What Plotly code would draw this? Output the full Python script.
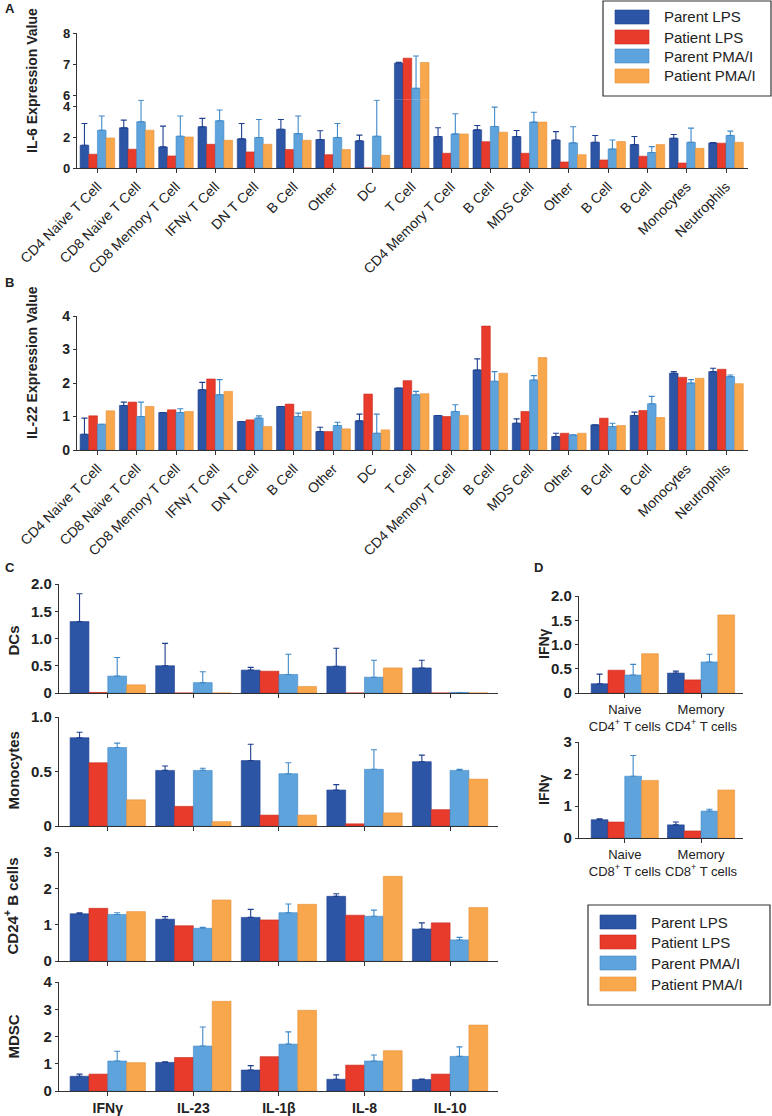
import plotly.graph_objects as go

W, H = 772, 1116
FONT = "Liberation Sans, Arial, sans-serif"

series = ["Parent LPS", "Patient LPS", "Parent PMA/I", "Patient PMA/I"]
colors = ["#2D55A5", "#E83B2B", "#5EA3DC", "#F8A74C"]
edge_colors = ["#1E3F8E", "#C92A1C", "#3F88C8", "#E8913A"]

# ---------------- Panel A: IL-6 ----------------
a_cats = ["CD4 Naive T Cell", "CD8 Naive T Cell", "CD8 Memory T Cell", "IFNγ T Cell",
          "DN T Cell", "B Cell", "Other", "DC", "T Cell", "CD4 Memory T Cell",
          "B Cell", "MDS Cell", "Other", "B Cell", "B Cell", "Monocytes", "Neutrophils"]
a_parent_lps = [1.47, 2.59, 1.36, 2.66, 1.88, 2.50, 1.84, 1.75, 7.03, 2.03, 2.46, 2.03, 1.81, 1.66, 1.51, 1.92, 1.62]
a_parent_lps_top = [2.87, 3.09, 2.70, 3.20, 2.87, 3.13, 2.40, 2.12, 7.06, 2.60, 2.74, 2.42, 2.35, 2.10, 2.03, 2.16, 1.65]
a_patient_lps = [0.89, 1.21, 0.78, 1.53, 1.04, 1.19, 0.86, 0.0, 7.19, 0.95, 1.70, 0.95, 0.39, 0.52, 0.76, 0.32, 1.60]
a_parent_pma = [2.44, 2.98, 2.05, 3.05, 1.97, 2.22, 1.97, 2.05, 6.22, 2.20, 2.68, 2.96, 1.62, 1.23, 1.00, 1.66, 2.10]
a_parent_pma_top = [3.35, 4.38, 3.35, 3.74, 3.13, 3.35, 2.87, 4.38, 7.26, 3.50, 3.93, 3.60, 2.66, 1.81, 1.38, 2.57, 2.38]
a_patient_pma = [1.94, 2.44, 2.00, 1.79, 1.53, 1.79, 1.19, 0.82, 7.05, 2.20, 2.31, 2.96, 0.86, 1.71, 1.51, 1.27, 1.66]

# ---------------- Panel B: IL-22 ----------------
b_cats = a_cats
b_parent_lps = [0.47, 1.33, 1.12, 1.80, 0.85, 1.30, 0.55, 0.87, 1.85, 1.03, 2.39, 0.80, 0.40, 0.75, 1.03, 2.29, 2.34]
b_parent_lps_top = [0.95, 1.43, None, 2.02, None, None, 0.68, 1.07, None, None, 2.72, 0.93, 0.50, None, 1.13, 2.34, 2.44]
b_patient_lps = [1.02, 1.43, 1.20, 2.12, 0.90, 1.37, 0.55, 1.67, 2.07, 1.00, 3.70, 1.15, 0.50, 0.95, 1.18, 2.17, 2.41]
b_parent_pma = [0.77, 1.00, 1.12, 1.65, 0.95, 1.00, 0.73, 0.50, 1.65, 1.15, 2.05, 2.09, 0.45, 0.70, 1.38, 2.00, 2.19]
b_parent_pma_top = [None, 1.43, 1.23, 2.10, 1.02, 1.10, 0.83, 1.07, 1.75, 1.35, 2.34, 2.22, None, 0.80, 1.60, 2.10, 2.24]
b_patient_pma = [1.17, 1.30, 1.15, 1.75, 0.70, 1.15, 0.63, 0.60, 1.68, 1.03, 2.29, 2.76, 0.50, 0.73, 0.97, 2.14, 1.98]

# ---------------- Panel C ----------------
c_cats = ["IFNγ", "IL-23", "IL-1β", "IL-8", "IL-10"]
c_dc_parent_lps = [1.31, 0.50, 0.42, 0.49, 0.46]
c_dc_parent_lps_top = [1.82, 0.91, 0.47, 0.82, 0.60]
c_dc_patient_lps = [0.01, 0.0, 0.40, 0.0, 0.0]
c_dc_parent_pma = [0.31, 0.19, 0.34, 0.29, 0.01]
c_dc_parent_pma_top = [0.65, 0.39, 0.71, 0.60, None]
c_dc_patient_pma = [0.15, 0.0, 0.12, 0.46, 0.0]

c_mono_parent_lps = [0.81, 0.51, 0.60, 0.33, 0.59]
c_mono_parent_lps_top = [0.86, 0.55, 0.75, 0.38, 0.65]
c_mono_patient_lps = [0.58, 0.18, 0.10, 0.02, 0.15]
c_mono_parent_pma = [0.72, 0.51, 0.48, 0.52, 0.51]
c_mono_parent_pma_top = [0.76, 0.53, 0.58, 0.70, 0.52]
c_mono_patient_pma = [0.24, 0.04, 0.10, 0.12, 0.43]

c_b_parent_lps = [1.30, 1.15, 1.20, 1.78, 0.88]
c_b_parent_lps_top = [1.33, 1.22, 1.42, 1.85, 1.05]
c_b_patient_lps = [1.45, 0.97, 1.13, 1.26, 1.05]
c_b_parent_pma = [1.28, 0.90, 1.33, 1.23, 0.58]
c_b_parent_pma_top = [1.33, 0.93, 1.57, 1.40, 0.65]
c_b_patient_pma = [1.36, 1.68, 1.56, 2.33, 1.47]

c_mdsc_parent_lps = [0.54, 1.05, 0.77, 0.43, 0.42]
c_mdsc_parent_lps_top = [0.62, 1.07, 0.93, 0.59, 0.44]
c_mdsc_patient_lps = [0.62, 1.23, 1.26, 0.95, 0.62]
c_mdsc_parent_pma = [1.10, 1.65, 1.72, 1.10, 1.27]
c_mdsc_parent_pma_top = [1.46, 2.35, 2.17, 1.32, 1.62]
c_mdsc_patient_pma = [1.04, 3.29, 2.96, 1.48, 2.42]

# ---------------- Panel D ----------------
d_cd4_cats = ["Naive<br>CD4<sup>+</sup> T cells", "Memory<br>CD4<sup>+</sup> T cells"]
d_cd8_cats = ["Naive<br>CD8<sup>+</sup> T cells", "Memory<br>CD8<sup>+</sup> T cells"]
d_cd4_parent_lps = [0.19, 0.41]
d_cd4_parent_lps_top = [0.39, 0.45]
d_cd4_patient_lps = [0.47, 0.27]
d_cd4_parent_pma = [0.37, 0.64]
d_cd4_parent_pma_top = [0.59, 0.80]
d_cd4_patient_pma = [0.81, 1.61]
d_cd8_parent_lps = [0.57, 0.41]
d_cd8_parent_lps_top = [0.60, 0.50]
d_cd8_patient_lps = [0.50, 0.22]
d_cd8_parent_pma = [1.93, 0.84]
d_cd8_parent_pma_top = [2.58, 0.90]
d_cd8_patient_pma = [1.80, 1.50]


def px_x(p):
    return p / W


def px_y(p):
    return 1 - p / H


fig = go.Figure()


def add_group(xa, ya, n, values, tops):
    xs = list(range(n))
    for i, (vals, top) in enumerate(zip(values, tops)):
        err = None
        if top is not None:
            plus = [(t - v) if t is not None else 0 for v, t in zip(vals, top)]
            err = dict(type="data", symmetric=False, array=plus,
                       arrayminus=[0] * n, color=edge_colors[i],
                       thickness=1.1, width=3, visible=True)
        fig.add_trace(go.Bar(
            x=xs, y=vals, name=series[i], showlegend=False,
            marker=dict(color=colors[i], line=dict(color=edge_colors[i], width=0.6)),
            error_y=err, xaxis=xa, yaxis=ya, offsetgroup=str(i)))


vA = [a_parent_lps, a_patient_lps, a_parent_pma, a_patient_pma]
tA = [a_parent_lps_top, None, a_parent_pma_top, None]
# Panel A (broken axis: lower and upper parts)
add_group("x", "y", len(a_cats), vA, tA)
add_group("x2", "y2", len(a_cats), vA, tA)
# Panel B
add_group("x3", "y3", len(b_cats),
          [b_parent_lps, b_patient_lps, b_parent_pma, b_patient_pma],
          [b_parent_lps_top, None, b_parent_pma_top, None])
# Panel C
add_group("x4", "y4", 5, [c_dc_parent_lps, c_dc_patient_lps, c_dc_parent_pma, c_dc_patient_pma],
          [c_dc_parent_lps_top, None, c_dc_parent_pma_top, None])
add_group("x5", "y5", 5, [c_mono_parent_lps, c_mono_patient_lps, c_mono_parent_pma, c_mono_patient_pma],
          [c_mono_parent_lps_top, None, c_mono_parent_pma_top, None])
add_group("x6", "y6", 5, [c_b_parent_lps, c_b_patient_lps, c_b_parent_pma, c_b_patient_pma],
          [c_b_parent_lps_top, None, c_b_parent_pma_top, None])
add_group("x7", "y7", 5, [c_mdsc_parent_lps, c_mdsc_patient_lps, c_mdsc_parent_pma, c_mdsc_patient_pma],
          [c_mdsc_parent_lps_top, None, c_mdsc_parent_pma_top, None])
# Panel D
add_group("x8", "y8", 2, [d_cd4_parent_lps, d_cd4_patient_lps, d_cd4_parent_pma, d_cd4_patient_pma],
          [d_cd4_parent_lps_top, None, d_cd4_parent_pma_top, None])
add_group("x9", "y9", 2, [d_cd8_parent_lps, d_cd8_patient_lps, d_cd8_parent_pma, d_cd8_patient_pma],
          [d_cd8_parent_lps_top, None, d_cd8_parent_pma_top, None])

AX = "#333333"


def xaxis(dom, n, labels=None, rng=None, anchor="y", angle=0, size=14, weight="normal", show=True, ticks=True):
    d = dict(domain=[px_x(dom[0]), px_x(dom[1])], anchor=anchor,
             range=rng, showgrid=False, zeroline=False, automargin=False,
             showline=show, linecolor=AX, linewidth=1.2,
             ticks="outside" if ticks else "", ticklen=4, tickcolor=AX, tickwidth=1.2,
             tickvals=list(range(n)), fixedrange=True)
    if labels is None:
        d["showticklabels"] = False
    else:
        d["ticktext"] = labels
        d["tickangle"] = angle
        d["tickfont"] = dict(family=FONT, size=size, color="#222", weight=weight)
    return d


def yaxis(top_px, bot_px, rng, tickvals, ticktext=None, anchor="x", size=14):
    d = dict(domain=[px_y(bot_px), px_y(top_px)], anchor=anchor, range=rng,
             showgrid=False, zeroline=False, showline=True, linecolor=AX, linewidth=1.2,
             automargin=False,
             ticks="outside", ticklen=3, tickcolor=AX, tickwidth=1.2,
             tickvals=tickvals, tickfont=dict(family=FONT, size=size, color="#222", weight="bold"),
             fixedrange=True)
    if ticktext is not None:
        d["ticktext"] = ticktext
    return d


A_X = (77, 748)
A_RNG = [-0.52, 16.56]
C_X = (59, 498)
C_RNG = [-0.57, 4.56]
D_X = (579, 743)
D_RNG = [-0.6, 1.55]

layout = dict(
    width=W, height=H, margin=dict(l=0, r=0, t=0, b=0, autoexpand=False),
    paper_bgcolor="white", plot_bgcolor="white",
    barmode="group", bargap=0.12, bargroupgap=0.0,
    font=dict(family=FONT, color="#222"),
    showlegend=False,
)

# A lower (0..4.4) and upper (5.85..8)
layout["xaxis"] = xaxis(A_X, len(a_cats), a_cats, A_RNG, "y", -45, 14)
layout["yaxis"] = yaxis(99.8, 168, [0, 4.4], [0, 2, 4], anchor="x", size=13)
layout["xaxis2"] = xaxis(A_X, len(a_cats), None, A_RNG, "y2", show=False, ticks=False)
layout["xaxis2"]["matches"] = "x"
layout["yaxis2"] = yaxis(33, 99.8, [5.85, 8], [6, 7, 8], anchor="x2", size=13)
# B
layout["xaxis3"] = xaxis(A_X, len(b_cats), b_cats, A_RNG, "y3", -45, 14)
layout["yaxis3"] = yaxis(316, 450, [0, 4], [0, 1, 2, 3, 4], anchor="x3")
# C
c_rows = [(584, 693, [0, 2], [0, 0.5, 1, 1.5, 2], ["0", "0.5", "1.0", "1.5", "2.0"]),
          (717, 826, [0, 1], [0, 0.5, 1], ["0", "0.5", "1.0"]),
          (852, 961, [0, 3], [0, 1, 2, 3], None),
          (982, 1091, [0, 4], [0, 1, 2, 3, 4], None)]
for k, (t, b, rng, tv, tt) in enumerate(c_rows):
    idx = 4 + k
    last = (k == 3)
    layout[f"xaxis{idx}"] = xaxis(C_X, 5, c_cats if last else None, C_RNG, f"y{idx}", 0, 14, "bold")
    layout[f"yaxis{idx}"] = yaxis(t, b, rng, tv, tt, anchor=f"x{idx}", size=15)
# D
layout["xaxis8"] = xaxis(D_X, 2, d_cd4_cats, D_RNG, "y8", 0, 13)
layout["yaxis8"] = yaxis(596, 693, [0, 2], [0, 0.5, 1, 1.5, 2], ["0", "0.5", "1.0", "1.5", "2.0"], anchor="x8", size=15)
layout["xaxis9"] = xaxis(D_X, 2, d_cd8_cats, D_RNG, "y9", 0, 13)
layout["yaxis9"] = yaxis(742, 838, [0, 3], [0, 1, 2, 3], anchor="x9", size=15)

fig.update_layout(**layout)

ann = []
shapes = []


def text(x, y, s, size=14, angle=0, weight="normal", xanchor="center", yanchor="middle"):
    ann.append(dict(x=px_x(x), y=px_y(y), xref="paper", yref="paper", text=s,
                    showarrow=False, textangle=angle, xanchor=xanchor, yanchor=yanchor,
                    font=dict(family=FONT, size=size, color="#222", weight=weight)))


# panel letters
text(3, 9, "A", 13, weight="bold", xanchor="left")
text(3, 283, "B", 13, weight="bold", xanchor="left")
text(3, 567, "C", 13, weight="bold", xanchor="left")
text(532, 567, "D", 13, weight="bold", xanchor="left")

# y titles (rotated, anchored by their right edge next to the tick labels)
text(42, 80, "IL-6 Expression Value", 14, -90, "bold", xanchor="right")
text(42, 362, "IL-22 Expression Value", 14, -90, "bold", xanchor="right")
text(23, 640, "DCs", 15, -90, "bold", xanchor="right")
text(23, 771, "Monocytes", 15, -90, "bold", xanchor="right")
text(23, 906, "CD24<sup>+</sup> B cells", 15, -90, "bold", xanchor="right")
text(23, 1036, "MDSC", 15, -90, "bold", xanchor="right")
text(554, 644, "IFNγ", 14, -90, "bold", xanchor="right")
text(554, 790, "IFNγ", 14, -90, "bold", xanchor="right")


def legend(x0, y0, x1, y1, sw_x0, sw_x1, txt_x, rows_y, sw_h, size):
    shapes.append(dict(type="rect", xref="paper", yref="paper",
                       x0=px_x(x0), x1=px_x(x1), y0=px_y(y1), y1=px_y(y0),
                       line=dict(color="#333", width=1.2), fillcolor="white"))
    for i, ry in enumerate(rows_y):
        shapes.append(dict(type="rect", xref="paper", yref="paper",
                           x0=px_x(sw_x0), x1=px_x(sw_x1), y0=px_y(ry + sw_h / 2), y1=px_y(ry - sw_h / 2),
                           line=dict(color=edge_colors[i], width=0.6), fillcolor=colors[i]))
        text(txt_x, ry, series[i], size, xanchor="left")


legend(603, 1, 771, 96, 615, 649, 662, [17, 37, 56, 76], 14, 15)
legend(588, 905, 770, 1005, 600, 636, 649, [922, 942, 963, 984], 14, 15)

fig.update_layout(annotations=ann, shapes=shapes)
fig.write_html("out.html", config={"displayModeBar": False},
               post_script="document.body.style.margin='0px';")
